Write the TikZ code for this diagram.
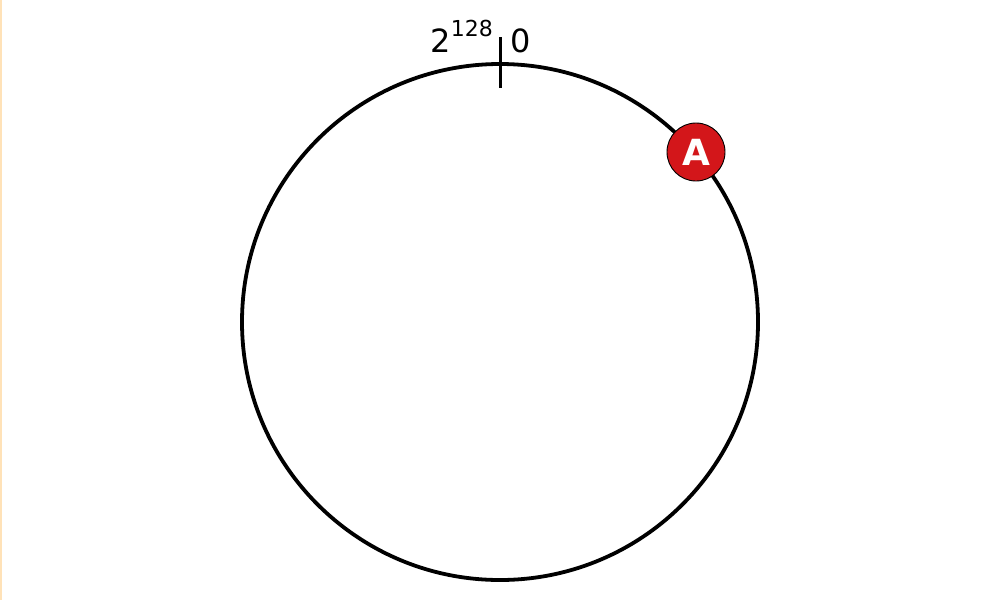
\documentclass[tikz,border=0pt]{standalone}
\usepackage{fontspec}
\setmainfont{DejaVu Sans}
\definecolor{nodered}{HTML}{D3161A}
\definecolor{edgeorange}{HTML}{FFE2B8}
\begin{document}
\begin{tikzpicture}[x=1pt,y=-1pt,
  ring/.style={circle,draw=black,line width=3.8pt,minimum size=516pt,inner sep=0pt},
  peer/.style={circle,draw=black,line width=0.9pt,fill=nodered,minimum size=58pt,inner sep=0pt,
    text=white,font=\fontsize{36}{36}\selectfont\bfseries},
  lbl/.style={inner sep=0pt,font=\fontsize{32}{32}\selectfont}]
\useasboundingbox (0,0) rectangle (1000,600);
\fill[white] (0,0) rectangle (1000,600);
\draw[edgeorange,line width=2pt] (1,0) -- (1,600);
\node[ring] (ring) at (500,322) {};
\coordinate (tt) at (500,37);
\coordinate (tb) at (500,88);
\draw[line width=3pt] (tt) -- (tb);
\node[lbl,anchor=base east] (max) at (493,52) {2\raisebox{16pt}{\fontsize{22}{22}\selectfont 128}};
\node[lbl,anchor=base west] (zero) at (510,52) {0};
\node[peer] (A) at (696,152) {A};
\end{tikzpicture}
\end{document}
